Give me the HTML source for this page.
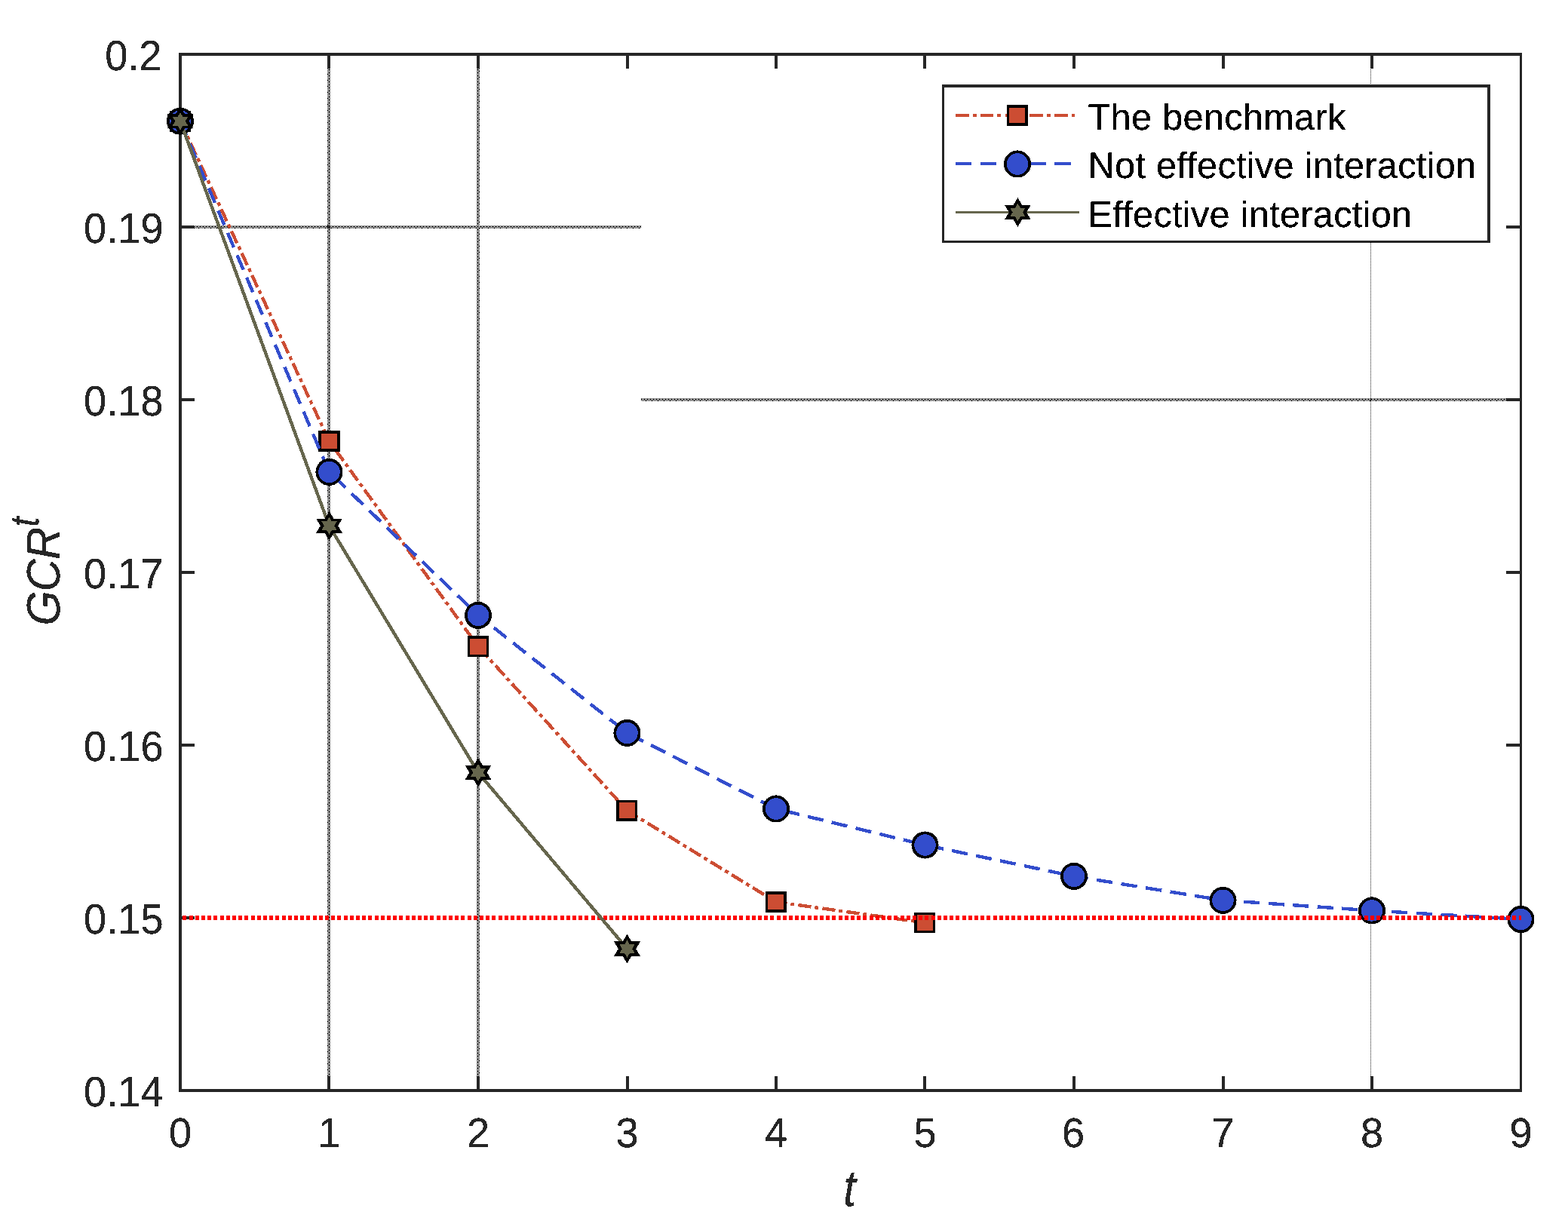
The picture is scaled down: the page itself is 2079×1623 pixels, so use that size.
<!DOCTYPE html>
<html lang="en"><head><meta charset="utf-8"><title>GCR convergence</title>
<style>html,body{margin:0;padding:0;background:#fff;}svg{display:block;}text{font-family:"Liberation Sans",sans-serif;text-rendering:geometricPrecision;}.tk{font-size:54.17px;fill:#262626;}.lg{font-size:48.75px;fill:#000;letter-spacing:0.25px;}.al{font-size:59.6px;fill:#262626;font-style:italic;}</style></head><body>
<svg width="2079" height="1623" viewBox="0 0 2079 1623">
<defs>
<pattern id="gH19" x="1" y="3" width="8" height="8" patternUnits="userSpaceOnUse"><g fill="#262626" shape-rendering="crispEdges"><rect x="0" y="0" width="1" height="1"/><rect x="2" y="0" width="1" height="1"/><rect x="4" y="0" width="1" height="1"/><rect x="6" y="0" width="1" height="1"/><rect x="1" y="1" width="1" height="1"/><rect x="3" y="1" width="1" height="1"/><rect x="5" y="1" width="1" height="1"/><rect x="7" y="1" width="1" height="1"/><rect x="0" y="2" width="1" height="1"/><rect x="2" y="2" width="1" height="1"/><rect x="4" y="2" width="1" height="1"/><rect x="6" y="2" width="1" height="1"/><rect x="1" y="3" width="1" height="1"/><rect x="3" y="3" width="1" height="1"/><rect x="5" y="3" width="1" height="1"/><rect x="7" y="3" width="1" height="1"/><rect x="0" y="4" width="1" height="1"/><rect x="2" y="4" width="1" height="1"/><rect x="4" y="4" width="1" height="1"/><rect x="6" y="4" width="1" height="1"/><rect x="1" y="5" width="1" height="1"/><rect x="3" y="5" width="1" height="1"/><rect x="5" y="5" width="1" height="1"/><rect x="7" y="5" width="1" height="1"/><rect x="0" y="6" width="1" height="1"/><rect x="2" y="6" width="1" height="1"/><rect x="4" y="6" width="1" height="1"/><rect x="6" y="6" width="1" height="1"/><rect x="1" y="7" width="1" height="1"/><rect x="3" y="7" width="1" height="1"/><rect x="5" y="7" width="1" height="1"/><rect x="7" y="7" width="1" height="1"/><rect x="0" y="1" width="1" height="1"/><rect x="4" y="1" width="1" height="1"/><rect x="6" y="3" width="1" height="1"/><rect x="2" y="5" width="1" height="1"/><rect x="6" y="5" width="1" height="1"/><rect x="2" y="7" width="1" height="1"/></g></pattern>
<pattern id="gH18" x="2" y="0" width="8" height="8" patternUnits="userSpaceOnUse"><g fill="#262626" shape-rendering="crispEdges"><rect x="0" y="0" width="1" height="1"/><rect x="2" y="0" width="1" height="1"/><rect x="4" y="0" width="1" height="1"/><rect x="6" y="0" width="1" height="1"/><rect x="1" y="1" width="1" height="1"/><rect x="3" y="1" width="1" height="1"/><rect x="5" y="1" width="1" height="1"/><rect x="7" y="1" width="1" height="1"/><rect x="0" y="2" width="1" height="1"/><rect x="2" y="2" width="1" height="1"/><rect x="4" y="2" width="1" height="1"/><rect x="6" y="2" width="1" height="1"/><rect x="1" y="3" width="1" height="1"/><rect x="3" y="3" width="1" height="1"/><rect x="5" y="3" width="1" height="1"/><rect x="7" y="3" width="1" height="1"/><rect x="0" y="4" width="1" height="1"/><rect x="2" y="4" width="1" height="1"/><rect x="4" y="4" width="1" height="1"/><rect x="6" y="4" width="1" height="1"/><rect x="1" y="5" width="1" height="1"/><rect x="3" y="5" width="1" height="1"/><rect x="5" y="5" width="1" height="1"/><rect x="7" y="5" width="1" height="1"/><rect x="0" y="6" width="1" height="1"/><rect x="2" y="6" width="1" height="1"/><rect x="4" y="6" width="1" height="1"/><rect x="6" y="6" width="1" height="1"/><rect x="1" y="7" width="1" height="1"/><rect x="3" y="7" width="1" height="1"/><rect x="5" y="7" width="1" height="1"/><rect x="7" y="7" width="1" height="1"/><rect x="0" y="1" width="1" height="1"/><rect x="4" y="1" width="1" height="1"/><rect x="6" y="3" width="1" height="1"/><rect x="2" y="5" width="1" height="1"/><rect x="6" y="5" width="1" height="1"/><rect x="2" y="7" width="1" height="1"/></g></pattern>
<pattern id="gV1" x="3" y="0" width="8" height="8" patternUnits="userSpaceOnUse"><g fill="#262626" shape-rendering="crispEdges"><rect x="0" y="0" width="1" height="1"/><rect x="2" y="0" width="1" height="1"/><rect x="4" y="0" width="1" height="1"/><rect x="6" y="0" width="1" height="1"/><rect x="1" y="1" width="1" height="1"/><rect x="3" y="1" width="1" height="1"/><rect x="5" y="1" width="1" height="1"/><rect x="7" y="1" width="1" height="1"/><rect x="0" y="2" width="1" height="1"/><rect x="2" y="2" width="1" height="1"/><rect x="4" y="2" width="1" height="1"/><rect x="6" y="2" width="1" height="1"/><rect x="1" y="3" width="1" height="1"/><rect x="3" y="3" width="1" height="1"/><rect x="5" y="3" width="1" height="1"/><rect x="7" y="3" width="1" height="1"/><rect x="0" y="4" width="1" height="1"/><rect x="2" y="4" width="1" height="1"/><rect x="4" y="4" width="1" height="1"/><rect x="6" y="4" width="1" height="1"/><rect x="1" y="5" width="1" height="1"/><rect x="3" y="5" width="1" height="1"/><rect x="5" y="5" width="1" height="1"/><rect x="7" y="5" width="1" height="1"/><rect x="0" y="6" width="1" height="1"/><rect x="2" y="6" width="1" height="1"/><rect x="4" y="6" width="1" height="1"/><rect x="6" y="6" width="1" height="1"/><rect x="1" y="7" width="1" height="1"/><rect x="3" y="7" width="1" height="1"/><rect x="5" y="7" width="1" height="1"/><rect x="7" y="7" width="1" height="1"/><rect x="1" y="0" width="1" height="1"/><rect x="1" y="4" width="1" height="1"/><rect x="3" y="6" width="1" height="1"/><rect x="5" y="2" width="1" height="1"/><rect x="5" y="6" width="1" height="1"/><rect x="7" y="2" width="1" height="1"/></g></pattern>
<pattern id="gV2" x="0" y="0" width="8" height="8" patternUnits="userSpaceOnUse"><g fill="#262626" shape-rendering="crispEdges"><rect x="0" y="0" width="1" height="1"/><rect x="2" y="0" width="1" height="1"/><rect x="4" y="0" width="1" height="1"/><rect x="6" y="0" width="1" height="1"/><rect x="1" y="1" width="1" height="1"/><rect x="3" y="1" width="1" height="1"/><rect x="5" y="1" width="1" height="1"/><rect x="7" y="1" width="1" height="1"/><rect x="0" y="2" width="1" height="1"/><rect x="2" y="2" width="1" height="1"/><rect x="4" y="2" width="1" height="1"/><rect x="6" y="2" width="1" height="1"/><rect x="1" y="3" width="1" height="1"/><rect x="3" y="3" width="1" height="1"/><rect x="5" y="3" width="1" height="1"/><rect x="7" y="3" width="1" height="1"/><rect x="0" y="4" width="1" height="1"/><rect x="2" y="4" width="1" height="1"/><rect x="4" y="4" width="1" height="1"/><rect x="6" y="4" width="1" height="1"/><rect x="1" y="5" width="1" height="1"/><rect x="3" y="5" width="1" height="1"/><rect x="5" y="5" width="1" height="1"/><rect x="7" y="5" width="1" height="1"/><rect x="0" y="6" width="1" height="1"/><rect x="2" y="6" width="1" height="1"/><rect x="4" y="6" width="1" height="1"/><rect x="6" y="6" width="1" height="1"/><rect x="1" y="7" width="1" height="1"/><rect x="3" y="7" width="1" height="1"/><rect x="5" y="7" width="1" height="1"/><rect x="7" y="7" width="1" height="1"/><rect x="1" y="0" width="1" height="1"/><rect x="1" y="4" width="1" height="1"/><rect x="3" y="6" width="1" height="1"/><rect x="5" y="2" width="1" height="1"/><rect x="5" y="6" width="1" height="1"/><rect x="7" y="2" width="1" height="1"/></g></pattern>
<pattern id="dot1" x="0" y="0" width="1" height="2" patternUnits="userSpaceOnUse"><rect x="0" y="0" width="1" height="1" fill="#262626" shape-rendering="crispEdges"/></pattern>
<filter id="bin" x="-5%" y="-5%" width="110%" height="110%" color-interpolation-filters="sRGB"><feComponentTransfer><feFuncA type="discrete" tableValues="0 1 1"/></feComponentTransfer></filter>
</defs>
<rect x="0" y="0" width="2079" height="1623" fill="#fff"/>
<g shape-rendering="crispEdges">
<rect x="434" y="74" width="4" height="1370" fill="url(#gV1)"/>
<rect x="632" y="74" width="4" height="1370" fill="url(#gV2)"/>
<rect x="1817" y="74" width="1" height="1370" fill="url(#dot1)"/>
<rect x="241" y="299" width="609" height="4" fill="url(#gH19)"/>
<rect x="850" y="528" width="1165" height="4" fill="url(#gH18)"/>
</g>
<g shape-rendering="crispEdges" fill="#262626">
<rect x="237" y="70" width="4" height="1378"/>
<rect x="2015" y="70" width="3" height="1378"/>
<rect x="237" y="70" width="1781" height="4"/>
<rect x="237" y="1444" width="1781" height="4"/>
<rect x="434" y="74" width="4" height="17"/>
<rect x="434" y="1427" width="4" height="17"/>
<rect x="632" y="74" width="4" height="17"/>
<rect x="632" y="1427" width="4" height="17"/>
<rect x="830" y="74" width="4" height="17"/>
<rect x="830" y="1427" width="4" height="17"/>
<rect x="1027" y="74" width="4" height="17"/>
<rect x="1027" y="1427" width="4" height="17"/>
<rect x="1224" y="74" width="4" height="17"/>
<rect x="1224" y="1427" width="4" height="17"/>
<rect x="1422" y="74" width="4" height="17"/>
<rect x="1422" y="1427" width="4" height="17"/>
<rect x="1620" y="74" width="4" height="17"/>
<rect x="1620" y="1427" width="4" height="17"/>
<rect x="1817" y="74" width="4" height="17"/>
<rect x="1817" y="1427" width="4" height="17"/>
<rect x="241" y="299" width="17" height="4"/>
<rect x="1997" y="299" width="18" height="4"/>
<rect x="241" y="528" width="17" height="4"/>
<rect x="1997" y="528" width="18" height="4"/>
<rect x="241" y="757" width="17" height="4"/>
<rect x="1997" y="757" width="18" height="4"/>
<rect x="241" y="986" width="17" height="4"/>
<rect x="1997" y="986" width="18" height="4"/>
<rect x="241" y="1215" width="17" height="4"/>
<rect x="1997" y="1215" width="18" height="4"/>
</g>
<g shape-rendering="crispEdges" fill="none">
<line x1="239.0" y1="160.7" x2="436.5" y2="585.0" stroke="#CC4D33" stroke-width="4.4" stroke-dasharray="17.19 4.91 4.91 5.20" stroke-dashoffset="0.00"/>
<line x1="436.5" y1="585.0" x2="634.0" y2="857.3" stroke="#CC4D33" stroke-width="4.4" stroke-dasharray="17.25 4.93 4.93 5.22" stroke-dashoffset="17.43"/>
<line x1="634.0" y1="857.3" x2="831.5" y2="1074.9" stroke="#CC4D33" stroke-width="4.4" stroke-dasharray="17.23 4.92 4.92 5.22" stroke-dashoffset="30.20"/>
<line x1="831.5" y1="1074.9" x2="1029.0" y2="1196.0" stroke="#CC4D33" stroke-width="4.4" stroke-dasharray="17.47 4.99 4.99 5.29" stroke-dashoffset="1.00"/>
<line x1="1029.0" y1="1196.0" x2="1226.5" y2="1223.5" stroke="#CC4D33" stroke-width="4.4" stroke-dasharray="17.23 4.92 4.92 5.22" stroke-dashoffset="2.60"/>
<rect x="225" y="147" width="28" height="28" fill="#000"/><rect x="229" y="151" width="20" height="20" fill="#CC4D33"/>
<rect x="422" y="571" width="29" height="28" fill="#000"/><rect x="426" y="575" width="21" height="20" fill="#CC4D33"/>
<rect x="620" y="843" width="28" height="28" fill="#000"/><rect x="623" y="847" width="22" height="21" fill="#CC4D33"/>
<rect x="817" y="1061" width="28" height="28" fill="#000"/><rect x="821" y="1064" width="21" height="21" fill="#CC4D33"/>
<rect x="1015" y="1182" width="28" height="28" fill="#000"/><rect x="1018" y="1186" width="21" height="20" fill="#CC4D33"/>
<rect x="1212" y="1210" width="28" height="27" fill="#000"/><rect x="1216" y="1213" width="21" height="21" fill="#CC4D33"/>
<line x1="239.0" y1="160.7" x2="436.5" y2="625.9" stroke="#334DCC" stroke-width="4.4" stroke-dasharray="20.90 11.29" stroke-dashoffset="0.00"/>
<line x1="436.5" y1="625.9" x2="634.0" y2="815.9" stroke="#334DCC" stroke-width="4.4" stroke-dasharray="21.11 11.39" stroke-dashoffset="23.90"/>
<line x1="634.0" y1="815.9" x2="831.5" y2="971.9" stroke="#334DCC" stroke-width="4.4" stroke-dasharray="21.19 11.44" stroke-dashoffset="6.13"/>
<line x1="831.5" y1="971.9" x2="1029.0" y2="1072.5" stroke="#334DCC" stroke-width="4.4" stroke-dasharray="21.27 11.48" stroke-dashoffset="30.00"/>
<line x1="1029.0" y1="1072.5" x2="1226.5" y2="1120.5" stroke="#334DCC" stroke-width="4.4" stroke-dasharray="21.21 11.45" stroke-dashoffset="22.06"/>
<line x1="1226.5" y1="1120.5" x2="1424.0" y2="1161.9" stroke="#334DCC" stroke-width="4.4" stroke-dasharray="21.17 11.43" stroke-dashoffset="28.80"/>
<line x1="1424.0" y1="1161.9" x2="1621.5" y2="1193.8" stroke="#334DCC" stroke-width="4.4" stroke-dasharray="21.43 11.57" stroke-dashoffset="2.70"/>
<line x1="1621.5" y1="1193.8" x2="1819.0" y2="1207.4" stroke="#334DCC" stroke-width="4.4" stroke-dasharray="21.13 11.41" stroke-dashoffset="4.74"/>
<line x1="1819.0" y1="1207.4" x2="2016.5" y2="1219.0" stroke="#334DCC" stroke-width="4.4" stroke-dasharray="21.30 11.50" stroke-dashoffset="6.80"/>
<circle cx="239.00" cy="160.70" r="18.05" fill="#000"/><circle cx="239.00" cy="160.70" r="14.25" fill="#334DCC"/>
<circle cx="436.50" cy="625.90" r="18.05" fill="#000"/><circle cx="436.50" cy="625.90" r="14.25" fill="#334DCC"/>
<circle cx="634.00" cy="815.90" r="18.05" fill="#000"/><circle cx="634.00" cy="815.90" r="14.25" fill="#334DCC"/>
<circle cx="831.50" cy="971.90" r="18.05" fill="#000"/><circle cx="831.50" cy="971.90" r="14.25" fill="#334DCC"/>
<circle cx="1029.00" cy="1072.50" r="18.05" fill="#000"/><circle cx="1029.00" cy="1072.50" r="14.25" fill="#334DCC"/>
<circle cx="1226.50" cy="1120.50" r="18.05" fill="#000"/><circle cx="1226.50" cy="1120.50" r="14.25" fill="#334DCC"/>
<circle cx="1424.00" cy="1161.90" r="18.05" fill="#000"/><circle cx="1424.00" cy="1161.90" r="14.25" fill="#334DCC"/>
<circle cx="1621.50" cy="1193.80" r="18.05" fill="#000"/><circle cx="1621.50" cy="1193.80" r="14.25" fill="#334DCC"/>
<circle cx="1819.00" cy="1207.40" r="18.05" fill="#000"/><circle cx="1819.00" cy="1207.40" r="14.25" fill="#334DCC"/>
<circle cx="2016.50" cy="1219.00" r="18.05" fill="#000"/><circle cx="2016.50" cy="1219.00" r="14.25" fill="#334DCC"/>
<line x1="242.4" y1="1217" x2="2017.4" y2="1217" stroke="#FF0000" stroke-width="6" stroke-dasharray="5 3.2"/>
<polyline points="239.0,160.7 436.5,697.2 634.0,1024.4 831.5,1258.1" stroke="#66664D" stroke-width="4.4"/>
<polygon points="239.00,141.31 244.83,151.00 256.49,151.00 250.66,160.70 256.49,170.40 244.83,170.40 239.00,180.09 233.17,170.40 221.51,170.40 227.34,160.70 221.51,151.00 233.17,151.00" fill="#000"/><polygon points="239.00,149.00 242.38,154.85 249.13,154.85 245.75,160.70 249.13,166.55 242.38,166.55 239.00,172.40 235.62,166.55 228.87,166.55 232.25,160.70 228.87,154.85 235.62,154.85" fill="#66664D"/>
<polygon points="436.50,677.81 442.33,687.50 453.99,687.50 448.16,697.20 453.99,706.90 442.33,706.90 436.50,716.59 430.67,706.90 419.01,706.90 424.84,697.20 419.01,687.50 430.67,687.50" fill="#000"/><polygon points="436.50,685.50 439.88,691.35 446.63,691.35 443.25,697.20 446.63,703.05 439.88,703.05 436.50,708.90 433.12,703.05 426.37,703.05 429.75,697.20 426.37,691.35 433.12,691.35" fill="#66664D"/>
<polygon points="634.00,1005.01 639.83,1014.70 651.49,1014.70 645.66,1024.40 651.49,1034.10 639.83,1034.10 634.00,1043.79 628.17,1034.10 616.51,1034.10 622.34,1024.40 616.51,1014.70 628.17,1014.70" fill="#000"/><polygon points="634.00,1012.70 637.38,1018.55 644.13,1018.55 640.75,1024.40 644.13,1030.25 637.38,1030.25 634.00,1036.10 630.62,1030.25 623.87,1030.25 627.25,1024.40 623.87,1018.55 630.62,1018.55" fill="#66664D"/>
<polygon points="831.50,1238.71 837.33,1248.40 848.99,1248.40 843.16,1258.10 848.99,1267.80 837.33,1267.80 831.50,1277.49 825.67,1267.80 814.01,1267.80 819.84,1258.10 814.01,1248.40 825.67,1248.40" fill="#000"/><polygon points="831.50,1246.40 834.88,1252.25 841.63,1252.25 838.25,1258.10 841.63,1263.95 834.88,1263.95 831.50,1269.80 828.12,1263.95 821.37,1263.95 824.75,1258.10 821.37,1252.25 828.12,1252.25" fill="#66664D"/>
</g>
<g shape-rendering="crispEdges" fill="none">
<rect x="1249" y="112" width="727" height="210" fill="#fff"/>
<g fill="#262626"><rect x="1249" y="112" width="3" height="210"/><rect x="1972" y="112" width="4" height="210"/><rect x="1249" y="112" width="727" height="4"/><rect x="1249" y="319" width="727" height="3"/></g>
<line x1="1267" y1="153" x2="1425" y2="153" stroke="#CC4D33" stroke-width="4" stroke-dasharray="17.5 5 5 5.3"/>
<rect x="1335" y="139" width="28" height="28" fill="#000"/><rect x="1338" y="143" width="21" height="20" fill="#CC4D33"/>
<line x1="1267" y1="217" x2="1425" y2="217" stroke="#334DCC" stroke-width="4" stroke-dasharray="21.3 11.5"/>
<circle cx="1349.00" cy="217.50" r="18.05" fill="#000"/><circle cx="1349.00" cy="217.50" r="14.25" fill="#334DCC"/>
<line x1="1267" y1="281.5" x2="1431" y2="281.5" stroke="#66664D" stroke-width="3"/>
<polygon points="1349.40,262.11 1355.23,271.80 1366.89,271.80 1361.06,281.50 1366.89,291.20 1355.23,291.20 1349.40,300.89 1343.57,291.20 1331.91,291.20 1337.74,281.50 1331.91,271.80 1343.57,271.80" fill="#000"/><polygon points="1349.40,269.80 1352.78,275.65 1359.53,275.65 1356.15,281.50 1359.53,287.35 1352.78,287.35 1349.40,293.20 1346.02,287.35 1339.27,287.35 1342.65,281.50 1339.27,275.65 1346.02,275.65" fill="#66664D"/>
</g>
<g filter="url(#bin)">
<g class="lg">
<text x="1442.6" y="172">The benchmark</text>
<text x="1442.6" y="236">Not effective interaction</text>
<text x="1442.6" y="301">Effective interaction</text>
</g>
<text class="tk" text-anchor="end" transform="translate(214.5,93.4) scale(1,1.04)">0.2</text>
<text class="tk" text-anchor="end" transform="translate(216.5,322.4) scale(1,1.04)">0.19</text>
<text class="tk" text-anchor="end" transform="translate(216.5,551.4) scale(1,1.04)">0.18</text>
<text class="tk" text-anchor="end" transform="translate(216.5,780.4) scale(1,1.04)">0.17</text>
<text class="tk" text-anchor="end" transform="translate(216.5,1009.4) scale(1,1.04)">0.16</text>
<text class="tk" text-anchor="end" transform="translate(216.5,1238.4) scale(1,1.04)">0.15</text>
<text class="tk" text-anchor="end" transform="translate(216.5,1467.4) scale(1,1.04)">0.14</text>
<text class="tk" text-anchor="middle" transform="translate(239.0,1521.4) scale(1,1.02)">0</text>
<text class="tk" text-anchor="middle" transform="translate(436.5,1521.4) scale(1,1.02)">1</text>
<text class="tk" text-anchor="middle" transform="translate(634.0,1521.4) scale(1,1.02)">2</text>
<text class="tk" text-anchor="middle" transform="translate(831.5,1521.4) scale(1,1.02)">3</text>
<text class="tk" text-anchor="middle" transform="translate(1029.0,1521.4) scale(1,1.02)">4</text>
<text class="tk" text-anchor="middle" transform="translate(1226.5,1521.4) scale(1,1.02)">5</text>
<text class="tk" text-anchor="middle" transform="translate(1423.0,1521.4) scale(1,1.02)">6</text>
<text class="tk" text-anchor="middle" transform="translate(1621.5,1521.4) scale(1,1.02)">7</text>
<text class="tk" text-anchor="middle" transform="translate(1819.0,1521.4) scale(1,1.02)">8</text>
<text class="tk" text-anchor="middle" transform="translate(2016.5,1521.4) scale(1,1.02)">9</text>
<text class="al" text-anchor="middle" transform="translate(1126.5,1599) scale(1,1.14)">t</text>
<text class="al" style="letter-spacing:-1px" transform="translate(78.7,829.5) rotate(-90) scale(1,1.045)">GCR</text>
<text class="al" style="font-size:47.7px" transform="translate(50.8,698.5) rotate(-90) scale(1,1.14)">t</text>
</g>
</svg></body></html>
